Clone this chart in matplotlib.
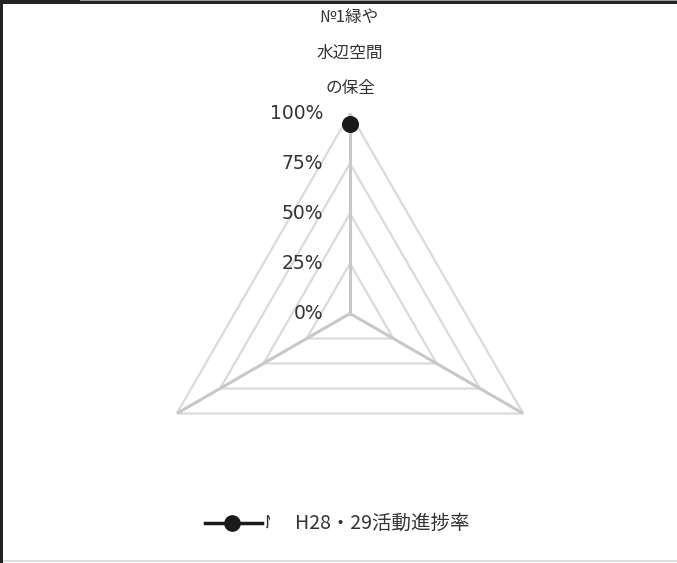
import numpy as np
import matplotlib
matplotlib.use("Agg")
import matplotlib.pyplot as plt
from matplotlib.patches import Rectangle
from matplotlib.lines import Line2D

# Radar data: three axes, only the first one has a recorded value
axis_labels = ["№1緑や\n水辺空間\nの保全", "", ""]
progress = [95, np.nan, np.nan]
series_name = "H28・29活動進捗率"
tick_values = [0, 25, 50, 75, 100]
tick_labels = ["0%", "25%", "50%", "75%", "100%"]

W, H = 677, 563
fig = plt.figure(figsize=(W / 100, H / 100), dpi=100)
fig.patch.set_facecolor("white")

# polar axes centred at (350, 313.5) px with a 200 px radius
cx, cy, R = 350, 313.5, 200
ax = fig.add_axes([(cx - R) / W, (H - cy - R) / H, 2 * R / W, 2 * R / H],
                  projection="polar")
ax.set_theta_offset(np.pi / 2)
ax.set_theta_direction(-1)
ax.set_ylim(0, 100)
ax.grid(False)
ax.spines["polar"].set_visible(False)
ax.set_xticks([])
ax.set_yticks([])
ax.patch.set_alpha(0)

n = len(axis_labels)
angles = np.linspace(0, 2 * np.pi, n, endpoint=False)
closed = np.append(angles, angles[0])

# polygonal rings
for v in tick_values[1:]:
    ax.plot(closed, [v] * (n + 1), color="#dadada", lw=1.6, zorder=1)
# spokes
for a in angles:
    ax.plot([a, a], [0, 100], color="#c8c8c8", lw=2.2, zorder=2)

# tick labels on the vertical spoke
for v, t in zip(tick_values, tick_labels):
    r = v / 100 * R
    fig.text((cx - 27) / W, (H - cy + r) / H, t, ha="right", va="center",
             fontsize=13.5, color="#333333", family="DejaVu Sans")

# axis label for the first axis
fig.text(cx / W, (H - 53) / H, axis_labels[0], ha="center", va="center",
         fontsize=12, color="#333333", linespacing=2.4,
         family=["Noto Sans CJK JP", "DejaVu Sans"])

# series
vals = np.append(progress, progress[0])
ax.plot(closed, vals, color="#1a1a1a", lw=2.5, marker="o", ms=11,
        zorder=5, clip_on=False)

# legend
ly = (H - 523) / H
fig.add_artist(Line2D([205 / W, 262 / W], [ly, ly], color="#1a1a1a", lw=2.5))
fig.add_artist(Line2D([232 / W], [ly], color="#1a1a1a", marker="o", ms=11, lw=0))
clipped = fig.text(265 / W, ly, "№", ha="left", va="center", fontsize=13,
                   color="#333333", family=["Noto Sans CJK JP", "DejaVu Sans"])
clip_rect = Rectangle((265, H - 540), 5, 40, transform=None)
clipped.set_clip_on(True)
clipped.set_clip_path(clip_rect)
fig.text(295 / W, ly, series_name, ha="left", va="center", fontsize=14,
         color="#333333", family=["Noto Sans CJK JP", "DejaVu Sans"])

# outer frame
def px_rect(x, y, w, h, color):
    fig.add_artist(Rectangle((x / W, 1 - (y + h) / H), w / W, h / H,
                             transform=fig.transFigure, color=color, lw=0))

px_rect(0, 0, W, 4, "#232323")
px_rect(80, 0, W - 80, 1, "#9a9a9a")
px_rect(0, 0, 3, H, "#232323")
px_rect(3, 560, W - 3, 2, "#dedede")

fig.savefig("out.png", dpi=100, facecolor="white")
